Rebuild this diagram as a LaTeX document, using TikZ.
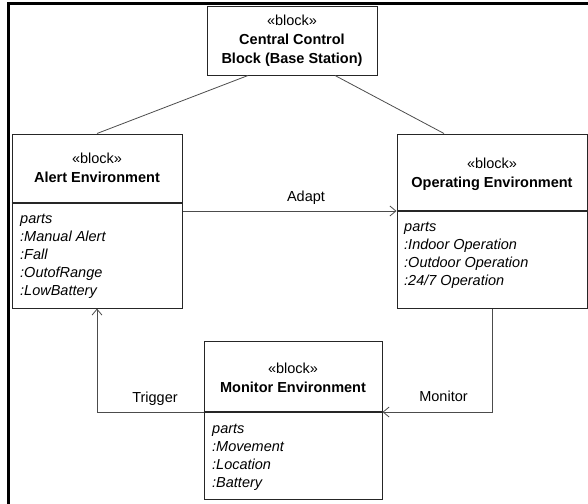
\documentclass[tikz,border=0pt]{standalone}
\usepackage{fontspec}
\setmainfont{Liberation Sans}
\usetikzlibrary{arrows.meta}

\tikzset{
    block/.style={draw=black!85, line width=1pt, inner sep=0pt},
    teiler/.style={draw=black!85, line width=1.3pt},
    kopf/.style={align=center, inner sep=0pt, font=\fontsize{14.5}{19}\selectfont},
    teile/.style={align=left, inner sep=0pt, anchor=west, font=\fontsize{14.5}{18}\selectfont\itshape},
    verbindung/.style={draw=black!70, line width=0.8pt},
    pfeil/.style={verbindung, -{Straight Barb[length=6pt,width=10pt]}},
    beschriftung/.style={inner sep=0pt, font=\fontsize{14.5}{18}\selectfont},
}

\begin{document}
\begin{tikzpicture}[x=1pt, y=-1pt]
        \useasboundingbox (0,0) rectangle (588,503);
        \clip (0,0) rectangle (588,503);

        % Rahmen
        \draw[line width=2.7pt] (8.7,520) -- (8.7,3.2) -- (600,3.2);

        % Bloecke
        \node [block, minimum width=170pt, minimum height=68pt] (zentrale) at (292,41) {};
        \node [block, minimum width=170pt, minimum height=174pt] (alert) at (97,221) {};
        \node [block, minimum width=190pt, minimum height=174pt] (betrieb) at (492,221) {};
        \node [block, minimum width=178pt, minimum height=158pt] (monitor) at (293,420) {};

        % Trennlinien
        \coordinate (alertteiler) at (97,203);
        \coordinate (betriebteiler) at (492,211);
        \coordinate (monitorteiler) at (293,412);
        \draw[teiler] (alertteiler -| alert.west) -- (alertteiler -| alert.east);
        \draw[teiler] (betriebteiler -| betrieb.west) -- (betriebteiler -| betrieb.east);
        \draw[teiler] (monitorteiler -| monitor.west) -- (monitorteiler -| monitor.east);

        % Koepfe
        \node [kopf] (zentralekopf) at (292,40.5) {«block»\\\textbf{Central Control}\\\textbf{Block (Base Station)}};
        \node [kopf] (alertkopf) at (97,167.5) {«block»\\\textbf{Alert Environment}};
        \node [kopf] (betriebkopf) at (492,174) {«block»\\\textbf{Operating Environment}};
        \node [kopf] (monitorkopf) at (293,377.5) {«block»\\\textbf{Monitor Environment}};

        % Teile
        \node [teile] (alertteile) at (20,256.5) {parts\\:Manual Alert\\:Fall\\:OutofRange\\:LowBattery};
        \node [teile] (betriebteile) at (404,255.75) {parts\\:Indoor Operation\\:Outdoor Operation\\:24/7 Operation};
        \node [teile] (monitorteile) at (212,457.75) {parts\\:Movement\\:Location\\:Battery};

        % Verbindungen
        \draw[verbindung] ([xshift=-44pt]zentrale.south) -- (alert.north);
        \draw[verbindung] ([xshift=43pt]zentrale.south) -- ([xshift=-48pt]betrieb.north);
        \draw[pfeil] (betriebteiler -| alert.east) -- (betriebteiler -| betrieb.west);
        \draw[pfeil] (betrieb.south) |- (monitorteiler -| monitor.east);
        \draw[pfeil] (monitorteiler -| monitor.west) -| (alert.south);

        \node [beschriftung] (adapt) at (306,198) {Adapt};
        \node [beschriftung] (monitorlabel) at (443.5,396) {Monitor};
        \node [beschriftung] (trigger) at (155,398.5) {Trigger};
\end{tikzpicture}
\end{document}
